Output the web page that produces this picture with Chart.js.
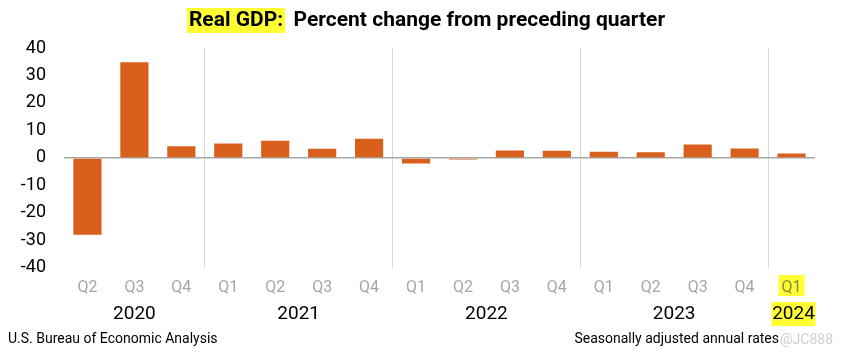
<!DOCTYPE html>
<html><head><meta charset="utf-8">
<script src="https://cdn.jsdelivr.net/npm/chart.js@4/dist/chart.umd.min.js"></script>
<style>html,body{margin:0;padding:0;background:#fff}#wrap{width:854px;height:360px;position:relative}</style>
</head><body><div id="wrap"><canvas id="c" width="854" height="360"></canvas></div>
<script>
const quarters = ["Q2","Q3","Q4","Q1","Q2","Q3","Q4","Q1","Q2","Q3","Q4","Q1","Q2","Q3","Q4","Q1"];
const years = ["2020","2021","2022","2023","2024"];
const yearSpans = [3,4,4,4,1];
const gdpChange = [-28.0,34.8,4.2,5.2,6.2,3.3,7.0,-2.0,-0.6,2.7,2.6,2.2,2.1,4.9,3.4,1.6];
const yTicks = [-40,-30,-20,-10,0,10,20,30,40];

const FONT = '"Roboto","DejaVu Sans",sans-serif';
const yearStarts = [];
{let s=0; for(const n of yearSpans){yearStarts.push(s); s+=n;}}

const decor = {
  id:'decor',
  beforeDraw(chart){
    const ctx=chart.ctx, x=chart.scales.x;
    ctx.save();
    ctx.font='bold 21px '+FONT;
    const t1='Real GDP:', t2='  Percent change from preceding quarter';
    const w1=ctx.measureText(t1).width, w2=ctx.measureText(t2).width;
    const sx=(854-(w1+w2))/2;
    ctx.fillStyle='#ffff33';
    ctx.fillRect(sx-2,8,w1+4,25);
    ctx.fillStyle='#000';
    ctx.textBaseline='middle';ctx.textAlign='left';
    ctx.fillText(t1,sx,21);ctx.fillText(t2,sx+w1,21);
    const last=quarters.length-1;
    const px=x.getPixelForValue(last);
    ctx.fillStyle='#ffff33';
    ctx.fillRect(px-13,275,26,21);
    ctx.fillRect(px-20,302,44,24);
    ctx.restore();
  },
  afterDraw(chart){
    const ctx=chart.ctx, x=chart.scales.x;
    ctx.save();
    ctx.font='19px '+FONT;ctx.fillStyle='#000';
    ctx.textAlign='center';ctx.textBaseline='middle';
    years.forEach((y,i)=>{
      const a=x.getPixelForValue(yearStarts[i]), b=x.getPixelForValue(yearStarts[i]+yearSpans[i]-1);
      ctx.fillText(y,(a+b)/2+(i===4?2:0),314);
    });
    ctx.font='14px '+FONT;ctx.textAlign='left';
    ctx.fillText('U.S. Bureau of Economic Analysis',8,339);
    ctx.textAlign='right';
    ctx.fillText('Seasonally adjusted annual rates',779,339);
    ctx.fillStyle='rgba(160,160,160,0.5)';
    ctx.textAlign='left';
    ctx.fillText('@JC888',780,340);
    ctx.restore();
  }
};

new Chart(document.getElementById('c'),{
  type:'bar',
  data:{labels:quarters,datasets:[{data:gdpChange,backgroundColor:'#D9601C',barPercentage:0.6,categoryPercentage:1}]},
  options:{
    responsive:false,animation:false,
    layout:{padding:{top:48,right:39,bottom:51,left:0}},
    plugins:{legend:{display:false},tooltip:{enabled:false},title:{display:false}},
    scales:{
      x:{
        grid:{offset:true,drawTicks:false,color:(c)=>[3,7,11,15].includes(c.index)?'#d9d9d9':'transparent',lineWidth:1},
        border:{display:false},
        ticks:{color:(c)=>c.index===quarters.length-1?'#8a8a3a':'#a6a6a6',font:{size:16,family:FONT},padding:11,maxRotation:0,autoSkip:false}
      },
      y:{
        min:-40,max:40,
        afterBuildTicks:(s)=>{s.ticks=yTicks.map(v=>({value:v}));},
        afterFit:(s)=>{s.width=64;},
        grid:{drawTicks:false,color:(c)=>c.tick&&c.tick.value===0?'#a6a6a6':'transparent',lineWidth:1.5},
        border:{display:false},
        ticks:{color:'#000',font:{size:18,family:FONT},padding:18}
      }
    }
  },
  plugins:[decor]
});
</script></body></html>
